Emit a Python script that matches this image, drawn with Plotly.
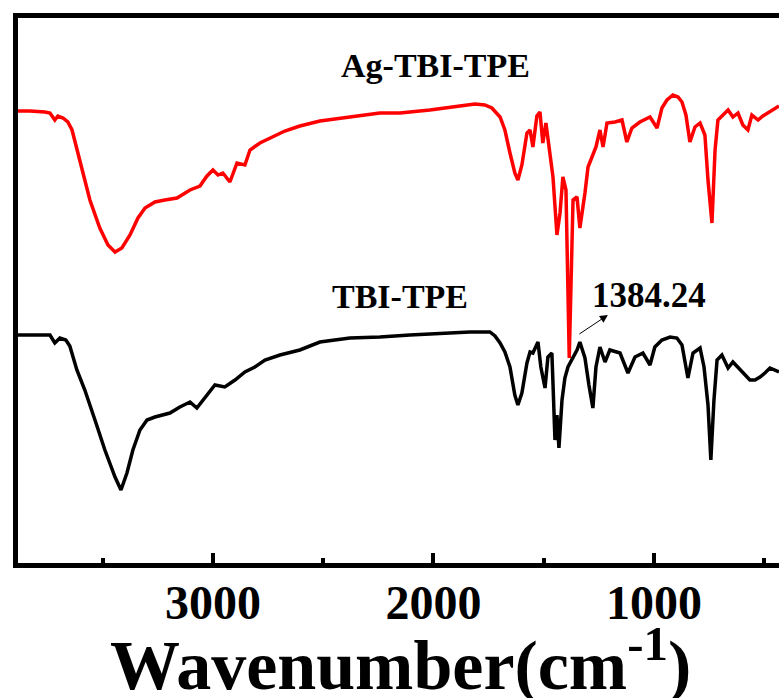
import plotly.graph_objects as go

# FTIR spectra, wavenumber (cm^-1) vs transmittance (arbitrary units, curves offset)
wn_ag = [3893, 3830, 3762, 3739, 3717, 3703, 3680, 3658, 3639, 3603, 3558, 3513, 3476,
         3444, 3413, 3376, 3340, 3308, 3263, 3218, 3163, 3104, 3059, 3027, 3000, 2977,
         2955, 2923, 2891, 2855, 2832, 2787, 2742, 2674, 2606, 2515, 2379, 2243, 2152,
         2016, 1880, 1812, 1767, 1735, 1698, 1676, 1653, 1631, 1617, 1599, 1576, 1562,
         1549, 1531, 1517, 1504, 1490, 1476, 1458, 1440, 1426, 1413, 1399, 1384.24, 1367,
         1349, 1336, 1313, 1299, 1281, 1263, 1245, 1231, 1213, 1177, 1145, 1123, 1100,
         1064, 1018, 986, 964, 941, 914, 891, 873, 855, 837, 814, 791, 769, 755, 737,
         723, 710, 687, 664, 642, 619, 597, 574, 556, 528, 506, 474, 433]
t_ag = [455, 455, 454, 453, 446, 450, 448, 444, 436, 406, 366, 338, 321,
        314, 318, 331, 348, 358, 364, 366, 368, 376, 380, 390, 396, 391,
        393, 384, 403, 401, 416, 423, 428, 435, 440, 445, 449, 453, 453,
        456, 460, 462, 461, 458, 449, 436, 413, 393, 386, 401, 433, 436,
        419, 450, 454, 423, 443, 419, 389, 331, 353, 389, 376, 208, 366,
        369, 338, 373, 399, 409, 419, 436, 419, 443, 444, 446, 424, 438,
        444, 449, 438, 458, 466, 471, 469, 464, 451, 424, 439, 443, 431, 386, 343,
        416, 446, 451, 456, 449, 453, 441, 436, 451, 446, 450, 454, 460]

wn_tbi = [3893, 3807, 3739, 3717, 3694, 3667, 3649, 3617, 3581, 3535, 3490, 3444, 3417,
          3390, 3363, 3331, 3299, 3263, 3195, 3150, 3104, 3073, 3036, 2991, 2946, 2900,
          2855, 2810, 2764, 2696, 2606, 2515, 2379, 2243, 2107, 1925, 1835, 1744, 1721,
          1698, 1676, 1653, 1631, 1617, 1599, 1576, 1562, 1549, 1526, 1513, 1494, 1481,
          1463, 1458, 1449, 1440, 1431, 1417, 1404, 1390, 1372, 1349, 1336, 1313, 1295,
          1277, 1263, 1245, 1222, 1200, 1154, 1118, 1086, 1050, 1018, 996, 964, 927, 896,
          873, 846, 823, 791, 773, 755, 742, 728, 714, 692, 664, 642, 610, 587, 565, 542,
          519, 497, 474, 433]
t_tbi = [231, 231, 231, 223, 228, 226, 220, 196, 176, 146, 116, 89, 76,
         93, 116, 136, 146, 149, 153, 159, 164, 158, 169, 181, 179, 186,
         194, 199, 206, 211, 216, 224, 228, 229, 231, 233, 234, 234, 230,
         223, 214, 199, 171, 161, 173, 203, 214, 213, 224, 199, 178, 209,
         213, 183, 126, 151, 118, 166, 188, 199, 206, 216, 224, 208, 181,
         158, 199, 219, 204, 216, 213, 193, 209, 213, 201, 219, 226, 229, 228,
         221, 188, 213, 218, 199, 161, 106, 166, 206, 211, 198, 204, 196, 191, 186, 186,
         189, 193, 198, 194]

x_range = [3884, 433]
y_range = [3, 548]
x_major = 1000
x_minor = 500

# label positions (wavenumber, transmittance)
peak_label = "1384.24"
arrow_tail = (1345, 231)
arrow_head = (1209, 251)
peak_text_pos = (1023, 271)
name_ag = "Ag-TBI-TPE"
name_tbi = "TBI-TPE"
name_ag_pos = (1989, 501)
name_tbi_pos = (2152, 270)
x_title = "<b>Wavenumber(cm<sup>-1</sup>)</b>"

FONT = "Liberation Serif, Times New Roman, serif"

fig = go.Figure()
fig.add_trace(go.Scatter(x=wn_ag, y=t_ag, mode="lines", name=name_ag,
                         line=dict(color="rgb(255,0,0)", width=3.5)))
fig.add_trace(go.Scatter(x=wn_tbi, y=t_tbi, mode="lines", name=name_tbi,
                         line=dict(color="black", width=3.5)))

fig.add_annotation(x=name_ag_pos[0], y=name_ag_pos[1], text=f"<b>{name_ag}</b>",
                   showarrow=False, font=dict(family=FONT, size=34, color="black"))
fig.add_annotation(x=name_tbi_pos[0], y=name_tbi_pos[1], text=f"<b>{name_tbi}</b>",
                   showarrow=False, font=dict(family=FONT, size=34, color="black"))
fig.add_annotation(x=peak_text_pos[0], y=peak_text_pos[1], text=f"<b>{peak_label}</b>",
                   showarrow=False, font=dict(family=FONT, size=35, color="black"))
fig.add_annotation(x=arrow_head[0], y=arrow_head[1], ax=arrow_tail[0], ay=arrow_tail[1],
                   axref="x", ayref="y", text="", showarrow=True,
                   arrowhead=2, arrowsize=1.6, arrowwidth=1, arrowcolor="black")

# axis title placed below the tick labels
fig.add_annotation(x=0.5, y=0, xref="paper", yref="paper", text=x_title,
                   showarrow=False, xanchor="center", yanchor="middle",
                   xshift=2, yshift=-97,
                   font=dict(family=FONT, size=70, color="black"))

fig.update_layout(
    width=779, height=698,
    margin=dict(l=18, r=0, t=18, b=135),
    paper_bgcolor="white", plot_bgcolor="white",
    showlegend=False,
    font=dict(family=FONT, color="black"),
    xaxis=dict(
        range=x_range, showgrid=False, zeroline=False,
        showline=True, linewidth=5, linecolor="black", mirror=True,
        ticks="inside", ticklen=10, tickwidth=4, tickcolor="black",
        tick0=0, dtick=x_major,
        minor=dict(ticks="inside", ticklen=5, tickwidth=4, tickcolor="black",
                   tick0=0, dtick=x_minor),
        tickfont=dict(family=FONT, size=48, color="black", weight="bold"),
        ticklabelstandoff=-7,
        automargin=False,
    ),
    yaxis=dict(
        range=y_range, showgrid=False, zeroline=False,
        showline=True, linewidth=5, linecolor="black", mirror=False,
        ticks="", showticklabels=False, automargin=False,
    ),
)

fig.write_html("out.html")
